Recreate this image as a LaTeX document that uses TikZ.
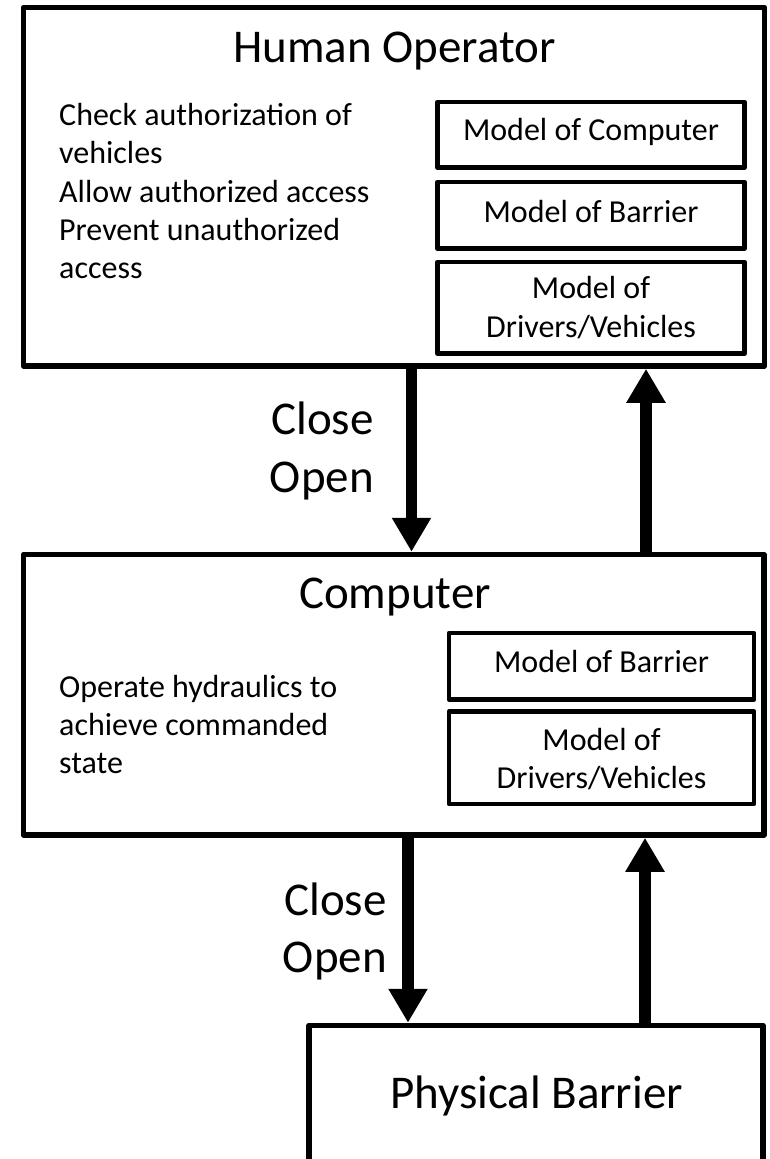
\documentclass[tikz,border=0pt]{standalone}
\usepackage{fontspec}
\setmainfont{Carlito}
\usetikzlibrary{arrows.meta}

\tikzset{
  panel/.style={draw, line width=5.5pt, line join=round, inner sep=0pt, fill=white},
  modelbox/.style={draw, line width=4.8pt, line join=round, inner sep=0pt},
  big/.style={font=\fontsize{47}{57}\selectfont, inner sep=0pt},
  small/.style={font=\fontsize{32}{38.5}\selectfont, inner sep=0pt},
  flow/.style={line width=11.5pt, -{Triangle[length=34pt,width=37pt]}}
}

\begin{document}
\begin{tikzpicture}[x=1pt, y=-1pt]
  \useasboundingbox (0,0) rectangle (769,1159);
  \clip (0,0) rectangle (769,1159);

  % main blocks
  \node[panel, minimum width=741pt, minimum height=358.5pt] (op) at (394,186.75) {};
  \node[panel, minimum width=740.5pt, minimum height=280.5pt] (comp) at (393.75,694.75) {};
  \node[panel, minimum width=454pt, minimum height=164.5pt] (bar) at (536,1107.75) {};

  % operator: titles, duties and process models
  \node[big, anchor=base] (optitle) at (394.5,62) {Human Operator};
  \node[small, anchor=base west] (op1) at (59,125) {Check authorization of};
  \node[small, anchor=base west] (op2) at (59,163.5) {vehicles};
  \node[small, anchor=base west] (op3) at (59,202) {Allow authorized access};
  \node[small, anchor=base west] (op4) at (59,240) {Prevent unauthorized};
  \node[small, anchor=base west] (op5) at (59,278) {access};

  \node[modelbox, minimum width=307pt, minimum height=65.5pt] (omc) at (591,134.75) {};
  \node[modelbox, minimum width=307pt, minimum height=66.5pt] (omb) at (591,215.25) {};
  \node[modelbox, minimum width=307pt, minimum height=91.5pt] (omd) at (591,307.75) {};
  \node[small, anchor=base] (omct) at (591,140) {Model of Computer};
  \node[small, anchor=base] (ombt) at (591,222) {Model of Barrier};
  \node[small, anchor=base] (omdt1) at (591,298) {Model of};
  \node[small, anchor=base] (omdt2) at (591,337) {Drivers/Vehicles};

  % computer: title, duty and process models
  \node[big, anchor=base] (comptitle) at (395,608) {Computer};
  \node[small, anchor=base west] (cp1) at (59,697) {Operate hydraulics to};
  \node[small, anchor=base west] (cp2) at (59,735) {achieve commanded};
  \node[small, anchor=base west] (cp3) at (59,773) {state};

  \node[modelbox, minimum width=305pt, minimum height=66.5pt] (cmb) at (601.5,666.25) {};
  \node[modelbox, minimum width=305pt, minimum height=92.5pt] (cmd) at (601.5,757.75) {};
  \node[small, anchor=base] (cmbt) at (601.5,672) {Model of Barrier};
  \node[small, anchor=base] (cmdt1) at (601.5,750) {Model of};
  \node[small, anchor=base] (cmdt2) at (601.5,788) {Drivers/Vehicles};

  % physical barrier
  \node[big, anchor=base] (bartitle) at (536.5,1108) {Physical Barrier};

  % control and feedback channels
  \coordinate (dn1) at (411.5,0);
  \coordinate (up1) at (646,0);
  \coordinate (dn2) at (408,0);
  \coordinate (up2) at (645,0);

  \draw[flow] (dn1 |- op.south) -- (dn1 |- comp.north);
  \draw[flow] (up1 |- comp.north) -- (up1 |- op.south);
  \draw[flow] (dn2 |- comp.south) -- (dn2 |- bar.north);
  \draw[flow] (up2 |- bar.north) -- (up2 |- comp.south);

  % command labels
  \node[big, anchor=base east] (c1) at (374,434) {Close};
  \node[big, anchor=base east] (o1) at (374,492) {Open};
  \node[big, anchor=base east] (c2) at (387,915) {Close};
  \node[big, anchor=base east] (o2) at (387,972) {Open};
\end{tikzpicture}
\end{document}
